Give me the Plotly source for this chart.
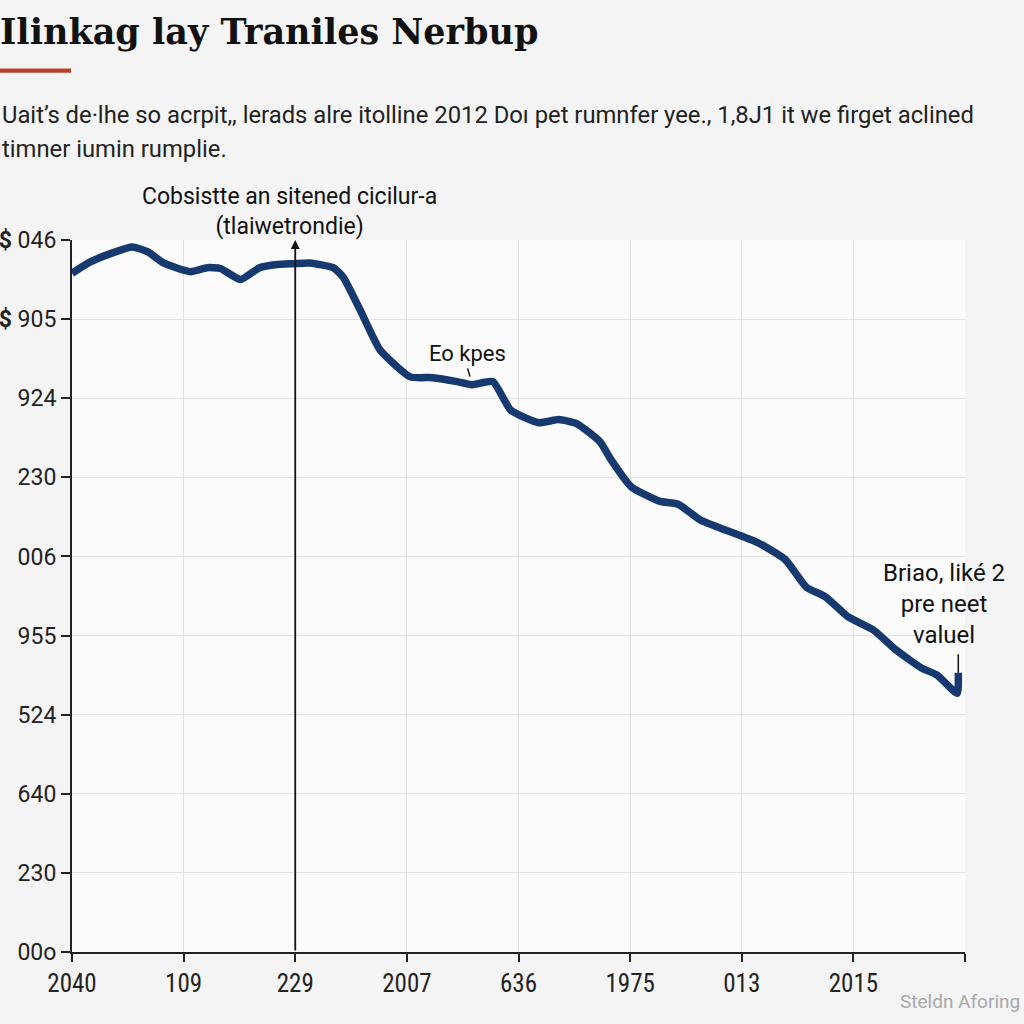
import plotly.graph_objects as go

# ---- data ----
x_ticks = [0, 1, 2, 3, 4, 5, 6, 7, 8]
x_labels = ["2040", "109", "229", "2007", "636", "1975", "013", "2015", ""]
y_ticks = [0, 1, 2, 3, 4, 5, 6, 7, 8, 9]
y_labels = ["00o", "230", "640", "524", "955", "006", "230", "924", "<b>$</b> 905", "<b>$</b> 046"]

series_x = [0.00, 0.16, 0.37, 0.54, 0.68, 0.82, 1.06, 1.21, 1.33, 1.51, 1.68, 1.84,
            1.98, 2.13, 2.34, 2.43, 2.58, 2.76, 3.03, 3.23, 3.45, 3.58, 3.77, 3.93,
            4.18, 4.36, 4.52, 4.73, 4.83, 5.01, 5.26, 5.43, 5.63, 5.86, 5.92, 6.15,
            6.39, 6.58, 6.75, 6.95, 7.18, 7.38, 7.61, 7.75, 7.93, 7.94]
series_y = [8.58, 8.72, 8.84, 8.91, 8.85, 8.71, 8.60, 8.65, 8.64, 8.50, 8.65, 8.69,
            8.70, 8.71, 8.65, 8.53, 8.12, 7.61, 7.27, 7.26, 7.21, 7.17, 7.21, 6.85,
            6.69, 6.73, 6.68, 6.45, 6.22, 5.88, 5.70, 5.66, 5.46, 5.33, 5.30, 5.17,
            4.96, 4.61, 4.49, 4.24, 4.07, 3.82, 3.59, 3.50, 3.27, 3.53]

title_text = "Ilinkag lay Traniles Nerbup"
subtitle_1 = "Uait’s de·lhe so acrpit,, lerads alre itolline 2012 Doı pet rumnfer yee., 1,8J1 it we firget aclined"
subtitle_2 = "timner iumin rumplie."
note_top = "Cobsistte an sitened cicilur-a<br>(tlaiwetrondie)"
note_mid = "Eo kpes"
note_end = "Briao, liké 2<br>pre neet<br>valuel"
source_text = "Steldn Aforing"

fig = go.Figure()
fig.add_trace(go.Scatter(
    x=series_x, y=series_y, mode="lines",
    line=dict(color="#163a70", width=7.5, shape="spline", smoothing=0.5),
    hoverinfo="skip", showlegend=False,
))

body_font = "Roboto, Arial, sans-serif"

fig.update_layout(
    width=1024, height=1024,
    margin=dict(l=72, r=59, t=240, b=72, autoexpand=False),
    paper_bgcolor="#f4f4f4",
    plot_bgcolor="#fbfbfb",
    showlegend=False,
    xaxis=dict(
        range=[0, 8], tickmode="array", tickvals=x_ticks, ticktext=x_labels,
        ticks="outside", ticklen=8, tickwidth=2, tickcolor="#222222",
        showline=True, linecolor="#222222", linewidth=2, automargin=False,
        showgrid=True, gridcolor="#e2e2e2", gridwidth=1, zeroline=False,
        tickfont=dict(family="Liberation Sans Narrow, Roboto Condensed, Roboto, sans-serif",
                      size=25, color="#222222"),
    ),
    yaxis=dict(
        range=[0, 9], tickmode="array", tickvals=y_ticks, ticktext=y_labels,
        ticks="outside", ticklen=9, tickwidth=2, tickcolor="#222222",
        showline=True, linecolor="#222222", linewidth=2, automargin=False,
        showgrid=True, gridcolor="#e2e2e2", gridwidth=1, zeroline=False,
        tickfont=dict(family=body_font, size=23, color="#222222"),
    ),
)

# title
fig.add_annotation(xref="paper", yref="paper", x=-0.083, y=1.293, xanchor="left", yanchor="middle",
                   text="<b>" + title_text + "</b>", showarrow=False,
                   font=dict(family="DejaVu Serif, Liberation Serif, serif", size=35, color="#111111"))
# red underline bar
fig.add_shape(type="rect", xref="paper", yref="paper", x0=-0.0806, x1=-0.001, y0=1.235, y1=1.241,
              fillcolor="#b5432a", line=dict(width=0))
# subtitle
fig.add_annotation(xref="paper", yref="paper", x=-0.081, y=1.175, xanchor="left", yanchor="middle",
                   text=subtitle_1, showarrow=False,
                   font=dict(family=body_font, size=23.8, color="#222222"))
fig.add_annotation(xref="paper", yref="paper", x=-0.081, y=1.128, xanchor="left", yanchor="middle",
                   text=subtitle_2, showarrow=False,
                   font=dict(family=body_font, size=23.8, color="#222222"))

# vertical arrow line with note
fig.add_annotation(x=2, y=9, xref="x", yref="y", ax=2, ay=0, axref="x", ayref="y",
                   text="", showarrow=True, arrowhead=2, arrowsize=1, arrowwidth=1.8,
                   arrowcolor="#111111")
fig.add_annotation(x=0.244, y=0.9965, xref="paper", yref="paper", text=note_top, showarrow=False,
                   xanchor="center", yanchor="bottom", align="center",
                   font=dict(family=body_font, size=23, color="#111111"))

# mid note
fig.add_annotation(x=3.58, y=7.2, xref="x", yref="y", text=note_mid, showarrow=True,
                   arrowhead=0, arrowwidth=1.5, arrowcolor="#111111", ax=-4, ay=-14,
                   yanchor="bottom", standoff=6,
                   font=dict(family=body_font, size=22, color="#111111"))

# end note
fig.add_annotation(x=7.94, y=3.53, xref="x", yref="y", text="", showarrow=True,
                   arrowhead=0, arrowwidth=1.5, arrowcolor="#111111", ax=0, ay=-20)
fig.add_annotation(x=0.976, y=0.423, xref="paper", yref="paper", text=note_end, showarrow=False,
                   xanchor="center", yanchor="bottom", align="center",
                   font=dict(family=body_font, size=24, color="#111111"))

# source
fig.add_annotation(xref="paper", yref="paper", x=1.064, y=-0.07, xanchor="right", yanchor="middle",
                   text=source_text, showarrow=False,
                   font=dict(family=body_font, size=19, color="#a8a8a8"))

fig.write_html("out.html")
